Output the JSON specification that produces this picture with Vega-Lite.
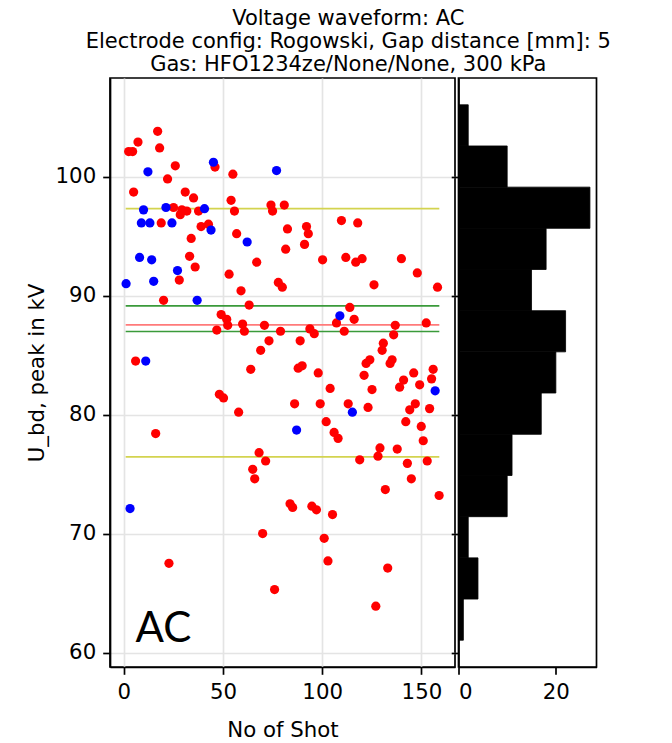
{
  "$schema": "https://vega.github.io/schema/vega-lite/v6.json",
  "padding": {"left": 25, "top": 8, "right": 5, "bottom": 2},
  "title": {
    "text": ["Voltage waveform: AC", "Electrode config: Rogowski, Gap distance [mm]: 5", "Gas: HFO1234ze/None/None, 300 kPa"],
    "fontSize": 21, "fontWeight": "normal", "font": "DejaVu Sans", "color": "black",
    "lineHeight": 23, "anchor": "middle", "offset": 2, "dx": 37
  },
  "datasets": {
    "shots": [
      {"shot": 17.1, "u": 103.8, "group": "red"},
      {"shot": 7.2, "u": 102.9, "group": "red"},
      {"shot": 2.5, "u": 102.1, "group": "red"},
      {"shot": 4.5, "u": 102.1, "group": "red"},
      {"shot": 18.1, "u": 102.4, "group": "red"},
      {"shot": 26, "u": 100.9, "group": "red"},
      {"shot": 46, "u": 100.8, "group": "red"},
      {"shot": 55, "u": 100.2, "group": "red"},
      {"shot": 22.1, "u": 99.8, "group": "red"},
      {"shot": 5, "u": 98.7, "group": "red"},
      {"shot": 31, "u": 98.7, "group": "red"},
      {"shot": 35.2, "u": 98.2, "group": "red"},
      {"shot": 54.1, "u": 98.0, "group": "red"},
      {"shot": 25.1, "u": 97.4, "group": "red"},
      {"shot": 29.3, "u": 97.2, "group": "red"},
      {"shot": 31.8, "u": 97.1, "group": "red"},
      {"shot": 28.5, "u": 96.8, "group": "red"},
      {"shot": 37.7, "u": 97.1, "group": "red"},
      {"shot": 55.8, "u": 97.1, "group": "red"},
      {"shot": 74.2, "u": 97.6, "group": "red"},
      {"shot": 75, "u": 97.1, "group": "red"},
      {"shot": 80.9, "u": 97.6, "group": "red"},
      {"shot": 18.9, "u": 96.1, "group": "red"},
      {"shot": 39, "u": 95.8, "group": "red"},
      {"shot": 42.7, "u": 96.0, "group": "red"},
      {"shot": 56.9, "u": 95.2, "group": "red"},
      {"shot": 82.5, "u": 95.6, "group": "red"},
      {"shot": 34, "u": 94.8, "group": "red"},
      {"shot": 33.2, "u": 93.3, "group": "red"},
      {"shot": 36, "u": 92.4, "group": "red"},
      {"shot": 67, "u": 92.8, "group": "red"},
      {"shot": 81.6, "u": 93.9, "group": "red"},
      {"shot": 53.1, "u": 91.8, "group": "red"},
      {"shot": 28, "u": 91.3, "group": "red"},
      {"shot": 59.1, "u": 90.4, "group": "red"},
      {"shot": 77.9, "u": 91.1, "group": "red"},
      {"shot": 79.9, "u": 90.7, "group": "red"},
      {"shot": 20.1, "u": 89.6, "group": "red"},
      {"shot": 63.2, "u": 89.2, "group": "red"},
      {"shot": 92.1, "u": 95.8, "group": "red"},
      {"shot": 93, "u": 95.2, "group": "red"},
      {"shot": 91.1, "u": 94.3, "group": "red"},
      {"shot": 109.7, "u": 96.3, "group": "red"},
      {"shot": 117.9, "u": 96.1, "group": "red"},
      {"shot": 100.2, "u": 93.0, "group": "red"},
      {"shot": 111.9, "u": 93.2, "group": "red"},
      {"shot": 116.9, "u": 92.8, "group": "red"},
      {"shot": 120.1, "u": 93.1, "group": "red"},
      {"shot": 139.9, "u": 93.1, "group": "red"},
      {"shot": 147.9, "u": 91.9, "group": "red"},
      {"shot": 126.1, "u": 90.9, "group": "red"},
      {"shot": 158.1, "u": 90.7, "group": "red"},
      {"shot": 113.9, "u": 89.0, "group": "red"},
      {"shot": 49.1, "u": 88.4, "group": "red"},
      {"shot": 51.9, "u": 88.0, "group": "red"},
      {"shot": 52.4, "u": 87.5, "group": "red"},
      {"shot": 46.9, "u": 87.1, "group": "red"},
      {"shot": 59.9, "u": 87.6, "group": "red"},
      {"shot": 60.8, "u": 87.0, "group": "red"},
      {"shot": 70.9, "u": 87.5, "group": "red"},
      {"shot": 79, "u": 87.0, "group": "red"},
      {"shot": 73.2, "u": 86.2, "group": "red"},
      {"shot": 69, "u": 85.4, "group": "red"},
      {"shot": 64, "u": 83.8, "group": "red"},
      {"shot": 6, "u": 84.5, "group": "red"},
      {"shot": 48.2, "u": 81.7, "group": "red"},
      {"shot": 50.3, "u": 81.4, "group": "red"},
      {"shot": 57.9, "u": 80.2, "group": "red"},
      {"shot": 16.1, "u": 78.4, "group": "red"},
      {"shot": 68.2, "u": 76.8, "group": "red"},
      {"shot": 71.5, "u": 76.1, "group": "red"},
      {"shot": 65, "u": 75.4, "group": "red"},
      {"shot": 66, "u": 74.6, "group": "red"},
      {"shot": 116.1, "u": 88.0, "group": "red"},
      {"shot": 107.2, "u": 87.7, "group": "red"},
      {"shot": 111.1, "u": 87.0, "group": "red"},
      {"shot": 93.8, "u": 87.2, "group": "red"},
      {"shot": 96, "u": 86.8, "group": "red"},
      {"shot": 136.8, "u": 87.5, "group": "red"},
      {"shot": 136, "u": 86.7, "group": "red"},
      {"shot": 152.4, "u": 87.7, "group": "red"},
      {"shot": 88.9, "u": 86.2, "group": "red"},
      {"shot": 130.8, "u": 86.0, "group": "red"},
      {"shot": 130.2, "u": 85.4, "group": "red"},
      {"shot": 124, "u": 84.6, "group": "red"},
      {"shot": 122.1, "u": 84.3, "group": "red"},
      {"shot": 135.2, "u": 84.6, "group": "red"},
      {"shot": 134.2, "u": 84.3, "group": "red"},
      {"shot": 87.9, "u": 83.9, "group": "red"},
      {"shot": 89.9, "u": 84.1, "group": "red"},
      {"shot": 98, "u": 83.5, "group": "red"},
      {"shot": 121.1, "u": 83.3, "group": "red"},
      {"shot": 146.1, "u": 83.5, "group": "red"},
      {"shot": 155.9, "u": 83.8, "group": "red"},
      {"shot": 155.1, "u": 83.0, "group": "red"},
      {"shot": 141, "u": 82.9, "group": "red"},
      {"shot": 139, "u": 82.3, "group": "red"},
      {"shot": 149.1, "u": 82.5, "group": "red"},
      {"shot": 104, "u": 82.2, "group": "red"},
      {"shot": 125.1, "u": 82.1, "group": "red"},
      {"shot": 86.1, "u": 80.9, "group": "red"},
      {"shot": 99, "u": 80.9, "group": "red"},
      {"shot": 113.1, "u": 80.9, "group": "red"},
      {"shot": 123.1, "u": 80.6, "group": "red"},
      {"shot": 146.9, "u": 80.9, "group": "red"},
      {"shot": 144.1, "u": 80.4, "group": "red"},
      {"shot": 154.1, "u": 80.5, "group": "red"},
      {"shot": 102, "u": 79.4, "group": "red"},
      {"shot": 106, "u": 78.5, "group": "red"},
      {"shot": 108, "u": 78.0, "group": "red"},
      {"shot": 142.1, "u": 79.4, "group": "red"},
      {"shot": 149.9, "u": 79.0, "group": "red"},
      {"shot": 150.9, "u": 77.8, "group": "red"},
      {"shot": 129.1, "u": 77.2, "group": "red"},
      {"shot": 128.1, "u": 76.5, "group": "red"},
      {"shot": 137.8, "u": 77.1, "group": "red"},
      {"shot": 118.9, "u": 76.2, "group": "red"},
      {"shot": 142.9, "u": 75.9, "group": "red"},
      {"shot": 152.9, "u": 76.1, "group": "red"},
      {"shot": 144.9, "u": 74.6, "group": "red"},
      {"shot": 131.8, "u": 73.7, "group": "red"},
      {"shot": 158.9, "u": 73.2, "group": "red"},
      {"shot": 83.8, "u": 72.5, "group": "red"},
      {"shot": 85.1, "u": 72.2, "group": "red"},
      {"shot": 94.8, "u": 72.3, "group": "red"},
      {"shot": 97.1, "u": 72.0, "group": "red"},
      {"shot": 105.2, "u": 71.6, "group": "red"},
      {"shot": 70, "u": 70.0, "group": "red"},
      {"shot": 101, "u": 69.6, "group": "red"},
      {"shot": 22.8, "u": 67.5, "group": "red"},
      {"shot": 102.9, "u": 67.7, "group": "red"},
      {"shot": 133, "u": 67.1, "group": "red"},
      {"shot": 76, "u": 65.3, "group": "red"},
      {"shot": 127, "u": 63.9, "group": "red"},
      {"shot": 12.2, "u": 100.4, "group": "blue"},
      {"shot": 77, "u": 100.5, "group": "blue"},
      {"shot": 45.2, "u": 101.2, "group": "blue"},
      {"shot": 10, "u": 97.2, "group": "blue"},
      {"shot": 21.3, "u": 97.4, "group": "blue"},
      {"shot": 40.7, "u": 97.3, "group": "blue"},
      {"shot": 8.9, "u": 96.1, "group": "blue"},
      {"shot": 13.2, "u": 96.1, "group": "blue"},
      {"shot": 24.3, "u": 96.1, "group": "blue"},
      {"shot": 44, "u": 95.5, "group": "blue"},
      {"shot": 62.2, "u": 94.5, "group": "blue"},
      {"shot": 8, "u": 93.2, "group": "blue"},
      {"shot": 14.1, "u": 93.0, "group": "blue"},
      {"shot": 27.1, "u": 92.1, "group": "blue"},
      {"shot": 1.2, "u": 91.0, "group": "blue"},
      {"shot": 15.1, "u": 91.2, "group": "blue"},
      {"shot": 37, "u": 89.6, "group": "blue"},
      {"shot": 108.9, "u": 88.3, "group": "blue"},
      {"shot": 11.1, "u": 84.5, "group": "blue"},
      {"shot": 156.9, "u": 82.0, "group": "blue"},
      {"shot": 115.2, "u": 80.2, "group": "blue"},
      {"shot": 87.1, "u": 78.7, "group": "blue"},
      {"shot": 3.2, "u": 72.1, "group": "blue"}
    ],
    "lines": [
      {"kind": "upper band", "value": 97.3, "start": 1, "end": 159},
      {"kind": "lower band", "value": 76.45, "start": 1, "end": 159},
      {"kind": "upper ci", "value": 89.13, "start": 1, "end": 159},
      {"kind": "lower ci", "value": 86.98, "start": 1, "end": 159},
      {"kind": "centre", "value": 87.54, "start": 1, "end": 159}
    ],
    "hist": [
      {"bin_start": 61.04, "bin_end": 64.50, "count": 1},
      {"bin_start": 64.50, "bin_end": 67.96, "count": 4},
      {"bin_start": 67.96, "bin_end": 71.42, "count": 2},
      {"bin_start": 71.42, "bin_end": 74.88, "count": 10},
      {"bin_start": 74.88, "bin_end": 78.34, "count": 11},
      {"bin_start": 78.34, "bin_end": 81.81, "count": 17},
      {"bin_start": 81.81, "bin_end": 85.27, "count": 20},
      {"bin_start": 85.27, "bin_end": 88.73, "count": 22},
      {"bin_start": 88.73, "bin_end": 92.19, "count": 15},
      {"bin_start": 92.19, "bin_end": 95.65, "count": 18},
      {"bin_start": 95.65, "bin_end": 99.11, "count": 27},
      {"bin_start": 99.11, "bin_end": 102.57, "count": 10},
      {"bin_start": 102.57, "bin_end": 106.03, "count": 2}
    ]
  },
  "spacing": 3.5,
  "bounds": "flush",
  "hconcat": [
    {
      "width": 345,
      "height": 589,
      "resolve": {"scale": {"color": "independent"}},
      "layer": [
        {
          "data": {"name": "lines"},
          "mark": {"type": "rule", "strokeWidth": 1.7},
          "encoding": {
            "x": {"field": "start", "type": "quantitative",
              "scale": {"domain": [-6.9, 166.9], "nice": false, "zero": false},
              "axis": {"values": [0, 50, 100, 150], "title": "No of Shot", "grid": true, "titlePadding": 17}},
            "x2": {"field": "end"},
            "y": {"field": "value", "type": "quantitative",
              "scale": {"domain": [58.79, 108.28], "nice": false, "zero": false},
              "axis": {"values": [60, 70, 80, 90, 100], "title": "U_bd, peak in kV", "grid": true}},
            "color": {"field": "kind", "type": "nominal", "legend": null,
              "scale": {"domain": ["upper band", "lower band", "upper ci", "lower ci", "centre"],
                        "range": ["#d3d34f", "#d3d34f", "#3a9a3a", "#3a9a3a", "#ff7a7a"]}}
          }
        },
        {
          "data": {"name": "shots"},
          "mark": {"type": "circle", "size": 85, "opacity": 1},
          "encoding": {
            "x": {"field": "shot", "type": "quantitative"},
            "y": {"field": "u", "type": "quantitative"},
            "color": {"field": "group", "type": "nominal", "legend": null,
              "scale": {"domain": ["red", "blue"], "range": ["#ff0000", "#0000ff"]}}
          }
        },
        {
          "data": {"values": [{"label": "AC"}]},
          "mark": {"type": "text", "font": "Lato", "fontSize": 42, "fontWeight": "normal", "align": "left", "baseline": "alphabetic", "color": "black"},
          "encoding": {
            "x": {"datum": 6},
            "y": {"datum": 60.85},
            "text": {"field": "label"}
          }
        }
      ]
    },
    {
      "width": 138,
      "height": 589,
      "data": {"name": "hist"},
      "mark": {"type": "rect", "color": "black", "stroke": "black", "strokeWidth": 0.8},
      "encoding": {
        "y": {"field": "bin_start", "type": "quantitative",
          "scale": {"domain": [58.79, 108.28], "nice": false, "zero": false},
          "axis": {"values": [60, 70, 80, 90, 100], "labels": false, "title": null, "grid": false}},
        "y2": {"field": "bin_end"},
        "x": {"field": "count", "type": "quantitative",
          "scale": {"domain": [0, 28.35], "nice": false},
          "axis": {"values": [0, 20], "title": null, "grid": false}},
        "x2": {"datum": 0}
      }
    }
  ],
  "config": {
    "font": "DejaVu Sans",
    "background": "white",
    "view": {"stroke": "black", "strokeWidth": 1.7},
    "axis": {
      "labelFont": "DejaVu Sans", "titleFont": "DejaVu Sans",
      "labelFontSize": 21.3, "titleFontSize": 21.3,
      "labelColor": "black", "titleColor": "black", "titleFontWeight": "normal",
      "domainColor": "black", "domainWidth": 1.7,
      "tickColor": "black", "tickWidth": 1.7, "tickSize": 7.3,
      "gridColor": "#e4e4e4", "gridWidth": 1.7,
      "labelPadding": 7, "titlePadding": 8
    }
  }
}
